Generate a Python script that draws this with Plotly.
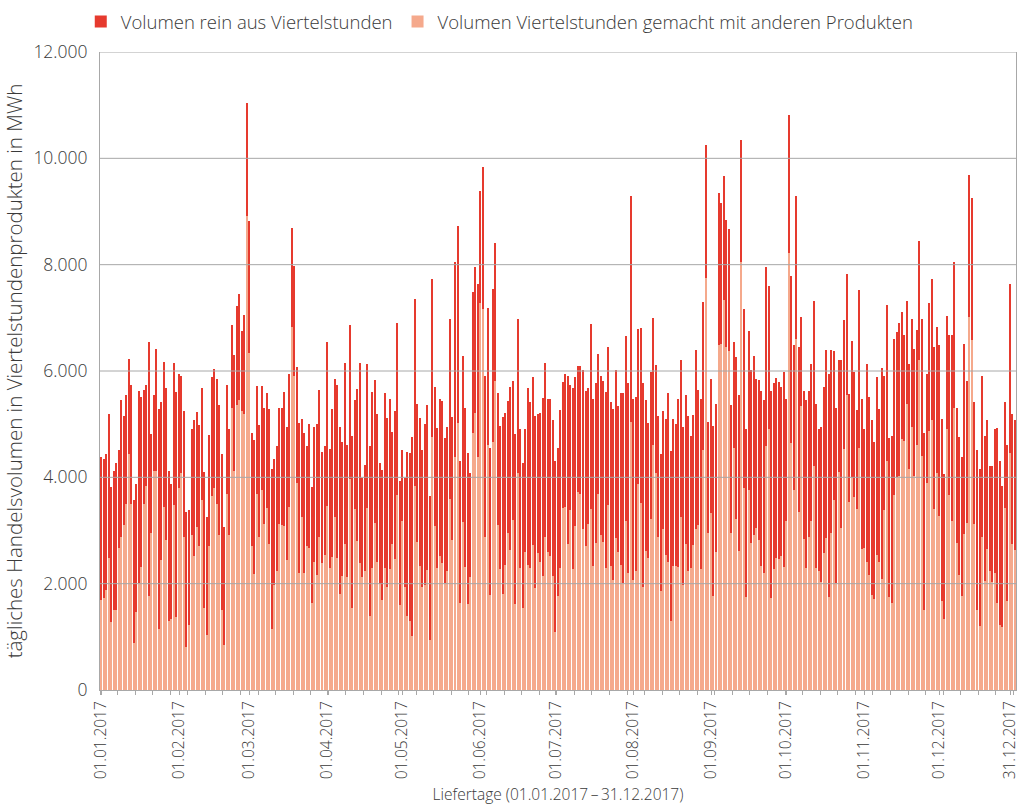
import plotly.graph_objects as go
import pandas as pd

tage = pd.date_range("2017-01-01", "2017-12-31", freq="D")

# daily total volume (MWh)
gesamt = [
    4390,4350,4430,5190,3820,4120,4270,4510,5450,5150,5540,6230,5730,3570,3880,5620,5510,5640,5730,6540,4820,5540,6410,5290,5410,6170,5680,4120,3870,6150,5600,
    5940,5910,5250,3340,3380,4910,5070,5230,4980,5680,4100,3260,4800,5880,6030,5850,5370,4430,3060,5730,4900,6870,6300,7230,7450,6760,7050,11050,
    8820,4840,4700,5720,4980,5720,5310,5590,5290,4160,4350,4590,5310,5310,5600,4940,5940,8690,7980,6070,5030,5090,4840,4590,5000,3820,4940,5000,5640,4480,4590,6550,4530,
    5290,5850,5730,4950,4660,6150,4600,6870,4780,5460,5660,6150,3980,4230,6130,4590,5600,5840,5190,4270,4140,5580,5120,5480,4860,5250,6910,3940,4520,3980,
    4480,4450,4760,7360,5380,5110,4510,5000,5370,3650,7730,5700,4920,5470,5430,4740,4950,6970,5130,8050,8730,4300,6280,5310,4450,4080,7490,7950,7630,9390,9840,
    5900,7190,4550,7550,8410,5580,4960,5130,5210,5430,5700,5820,4820,6970,4910,4270,4910,5680,5420,5880,5160,5190,5210,5500,6150,5480,5480,5080,4310,4550,
    5270,5800,5950,5910,5740,5680,5890,6090,6090,6010,5620,5680,6890,5480,5770,6320,5910,5820,5600,6450,5420,5290,6010,5350,5590,5580,6660,5780,9290,5470,5520,
    6790,6810,5770,5460,5030,5990,6990,6110,5160,4430,5250,5090,5580,4490,5090,5000,5480,6210,4940,5540,5160,4780,5170,6400,5640,5470,7300,10250,5040,5850,4960,
    5380,9350,9160,9660,8840,8670,5370,6550,6270,5540,10340,7160,4910,6760,6010,6280,5850,5840,5630,5460,7950,7590,5630,5770,5860,5800,5700,5990,5480,10820,
    7790,6480,9290,6450,7010,5630,5450,5630,6130,7320,5380,4910,4940,5700,6400,5940,6400,6370,5310,6210,6200,6950,7830,5560,6560,5980,5270,7520,5480,4900,6130,
    5520,5080,4660,5890,5290,6050,5900,7240,4740,4770,6600,6730,6910,7110,6670,7310,6130,6970,6410,6770,8440,6970,4840,5940,7280,7730,6450,6830,6480,5090,
    4060,7030,6670,6670,8050,5300,4760,4390,6500,5810,9680,9260,5420,4510,4160,5900,4780,5080,4210,4210,4900,4920,4310,3830,5420,4610,7630,5190,5080,
]

# part of the daily volume done with other products (MWh)
andere = [
    1700,1730,1890,2480,1270,1500,1500,2670,2870,3100,3490,4430,3490,875,1460,2010,2320,3490,3840,1770,2950,4120,4120,1150,2440,3450,2830,1300,1340,3480,1380,
    3800,4080,2870,800,1230,2910,2520,3060,2710,3570,1540,1030,2710,3650,3800,3490,2910,1500,840,3690,2910,5300,4120,5370,5460,5250,5200,8920,
    6340,2710,2180,3690,2870,3770,3120,3430,2750,1150,1980,2240,3130,3100,3080,2440,3450,6830,5910,3900,2200,3260,2200,2710,2670,1630,2400,2160,2880,2380,2540,3470,2300,
    2500,3260,2490,1800,2150,2750,2130,3960,1540,3400,2810,2380,2130,2240,3430,1400,2300,3140,2410,1990,1700,2300,1930,2280,2750,2460,3660,1590,3180,1930,
    1400,1300,1010,3840,2790,2340,1930,1980,2260,940,4760,3090,2300,2520,2380,2020,2230,3590,2830,4390,5030,1640,3160,2320,1620,2130,4840,5210,4380,7280,7160,
    2870,4600,1790,4660,5820,3100,2280,1810,2360,2950,2630,3200,1620,4080,2300,1540,2590,2360,2300,2730,1910,2570,2400,2150,2880,2590,2520,2150,1090,1760,
    2300,3430,3450,2750,3380,2280,3090,3730,3690,3020,2710,3130,3400,2340,2770,3690,2910,2790,2300,3480,2340,2060,2850,2590,2360,2020,3180,2200,5040,2070,2240,
    3880,3510,1930,2620,2490,3220,4600,4080,2880,1870,3020,2540,2400,1300,2340,2340,2320,3260,1970,2750,2240,2300,2730,3020,3100,2280,4510,7750,2950,3320,1760,
    2590,6480,6500,7340,6450,6380,2960,4550,3220,2620,8050,3800,1750,3770,2770,2910,3040,2830,2340,2200,4590,4900,1730,2280,2490,2460,2520,2320,3180,8220,
    4650,3770,6600,3340,5350,2840,2300,2880,3180,4220,2300,2230,2030,2570,2850,1750,2950,3570,2010,4100,3040,4530,5540,3530,4000,3630,3410,4560,2650,2670,2400,
    2160,1790,1710,2540,2400,2090,3390,4310,1750,1630,3660,4000,4020,4720,4690,5380,4160,4950,4020,4600,6210,4410,1500,3900,4880,5070,3410,4080,3270,1670,
    1340,4910,3660,3180,5310,2770,2160,1770,2930,3140,7020,6590,3120,1500,1200,2880,2050,2650,2230,2030,2200,1630,1230,1190,3430,1670,4450,2750,2630,
]

assert len(gesamt) == len(andere) == len(tage)

# part done purely with quarter-hour products
rein = [g - a for g, a in zip(gesamt, andere)]

tick_dates = ["2017-01-01", "2017-02-01", "2017-03-01", "2017-04-01", "2017-05-01", "2017-06-01",
              "2017-07-01", "2017-08-01", "2017-09-01", "2017-10-01", "2017-11-01", "2017-12-01",
              "2017-12-29 06:00"]
tick_labels = ["01.01.2017", "01.02.2017", "01.03.2017", "01.04.2017", "01.05.2017", "01.06.2017",
               "01.07.2017", "01.08.2017", "01.09.2017", "01.10.2017", "01.11.2017", "01.12.2017", "31.12.2017"]
y_ticks = [0, 2000, 4000, 6000, 8000, 10000, 12000]

RED = "#E63A2E"
SALMON = "#F5A98C"
GRID = "#A8A8A8"
TEXT = "#3A3A3A"
FONT = "Open Sans"

fig = go.Figure()
fig.add_bar(x=tage, y=andere, name="Volumen Viertelstunden gemacht mit anderen Produkten",
            marker=dict(color=SALMON, line=dict(width=0)))
fig.add_bar(x=tage, y=rein, name="Volumen rein aus Viertelstunden",
            marker=dict(color=RED, line=dict(width=0)))

# gridlines drawn above the bars, as in the original
shapes = []
for v in y_ticks[1:]:
    shapes.append(dict(type="line", xref="paper", x0=0, x1=1, yref="y", y0=v, y1=v,
                       line=dict(color=GRID, width=1), layer="above"))

fig.update_layout(
    width=1019, height=809,
    margin=dict(l=100, r=3, t=52, b=119, autoexpand=False),
    barmode="stack", bargap=0.52,
    paper_bgcolor="white", plot_bgcolor="white",
    separators=",.",
    font=dict(family=FONT, color=TEXT, size=15, weight=300),
    shapes=shapes,
    legend=dict(orientation="h", traceorder="reversed", x=-0.021, xanchor="left", y=1.077, yanchor="top",
                font=dict(size=18.5, color=TEXT, family=FONT, weight=300),
                itemwidth=30, bgcolor="rgba(0,0,0,0)"),
    xaxis=dict(
        type="date", automargin=False,
        range=["2016-12-31 12:00", "2017-12-31 12:00"],
        tickvals=tick_dates, ticktext=tick_labels, tickangle=-90,
        ticklabeloverflow="allow",
        tickfont=dict(size=15.5, color=TEXT, family=FONT, weight=300),
        ticks="outside", ticklen=4, tickcolor=GRID,
        minor=dict(ticks="outside", ticklen=4, tickcolor=GRID, dtick=7 * 86400000,
                   tick0="2017-01-07 12:00", showgrid=False),
        showline=True, linecolor=GRID, linewidth=1, mirror=False,
        showgrid=False, zeroline=False,
        title=dict(text="Liefertage (01.01.2017\u2009–\u200931.12.2017)",
                   font=dict(size=15.5, color=TEXT, family=FONT, weight=300), standoff=10),
    ),
    yaxis=dict(
        automargin=False,
        range=[0, 12000], tickvals=y_ticks, tickformat=",.0f",
        tickfont=dict(size=17.5, color=TEXT, family=FONT, weight=300),
        ticks="", ticklabelstandoff=8,
        showline=True, linecolor=GRID, linewidth=1, mirror=True,
        showgrid=False, zeroline=False,
        title=dict(text="tägliches Handelsvolumen in Viertelstundenprodukten in MWh",
                   font=dict(size=20.5, color=TEXT, family=FONT, weight=300), standoff=6),
    ),
)

fig.write_html("out.html", config={"displayModeBar": False},
               post_script="document.body.style.margin='0';")
